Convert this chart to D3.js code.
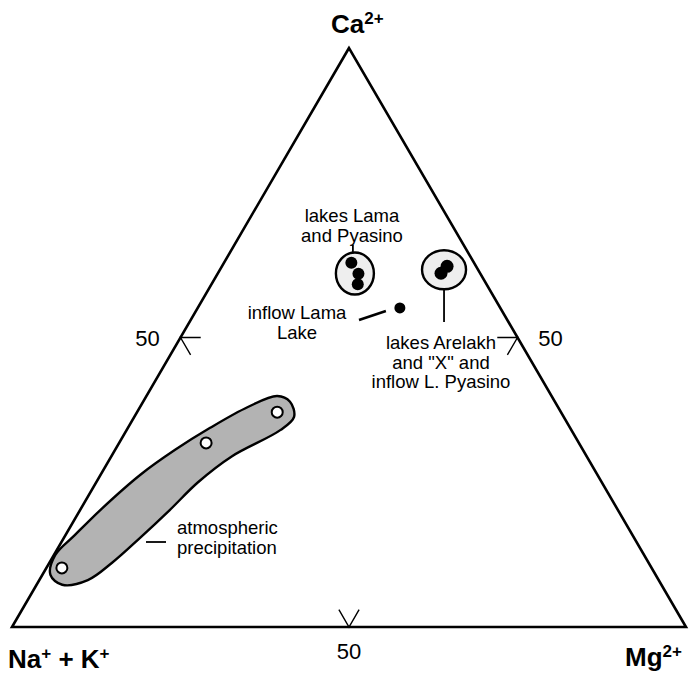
<!DOCTYPE html>
<html>
<head>
<meta charset="utf-8">
<script src="https://cdn.jsdelivr.net/npm/d3@7"></script>
<style>
  html, body { margin: 0; padding: 0; background: #fff; }
  svg { display: block; font-family: "Liberation Sans", Arial, Helvetica, sans-serif; }
</style>
</head>
<body>
<div id="chart"></div>
<script>
// ternary values in percent: Ca, Mg (Na+K is the rest)
const lamaCa = [62.9, 61.0, 59.2];
const lamaMg = [18.9, 20.9, 21.7];
const arelakhCa = [61.1, 62.3];
const arelakhMg = [33.1, 33.4];
const inflowCa = [55.1];
const inflowMg = [30.0];
const precipCa = [10.2, 31.8, 37.1];
const precipMg = [2.3, 12.9, 20.8];

// outline of the precipitation field (Ca, Mg)
const envelopeCa = [9.0, 12.4, 15.9, 20.2, 26.3, 30.6, 34.4, 38.0, 39.9, 38.9, 36.3, 34.0, 29.5, 25.0, 20.2, 15.4, 11.1, 8.1, 7.3];
const envelopeMg = [1.2, 0.2, 1.4, 3.0, 5.9, 8.9, 12.2, 16.0, 19.4, 21.8, 23.7, 22.8, 17.9, 15.1, 13.3, 11.3, 9.3, 7.2, 3.8];

const tickValues = [50];
const cornerLabels = [
  { main: "Ca", sup: "2+" },
  { main: "Na", sup: "+", tail: " + K", tailSup: "+" },
  { main: "Mg", sup: "2+" }
];

const W = 689, H = 681;
const svg = d3.select("#chart").append("svg").attr("width", W).attr("height", H);

const xScale = d3.scaleLinear().domain([0, 100]).range([12, 686]);
const yScale = d3.scaleLinear().domain([0, 100]).range([627, 48]);
const px = (ca, mg) => [xScale(mg + ca / 2), yScale(ca)];

// triangle
const corners = [px(100, 0), px(0, 0), px(0, 100)];
svg.append("path")
  .attr("d", d3.line()(corners) + "Z")
  .attr("fill", "none")
  .attr("stroke", "#000")
  .attr("stroke-width", 2.6)
  .attr("stroke-linejoin", "miter");

// ticks at 50 on each side
const tickGroup = svg.append("g").attr("stroke", "#000").attr("stroke-width", 1.4).attr("fill", "none");
tickValues.forEach(v => {
  const d = 3;
  // left side (Mg = 0)
  const L = px(v, 0);
  tickGroup.append("path").attr("d", d3.line()([px(v, d), L, px(v - d, d)]));
  // right side (Na = 0)
  const R = px(v, 100 - v);
  tickGroup.append("path").attr("d", d3.line()([px(v, 100 - v - d), R, px(v - d, 100 - v)]));
  // bottom (Ca = 0)
  const B = px(0, v);
  tickGroup.append("path").attr("d", d3.line()([px(d, v - d), B, px(d, v)]));

  svg.append("text").attr("x", L[0] - 33).attr("y", L[1] + 8)
    .attr("text-anchor", "middle").attr("font-size", 22).text(v);
  svg.append("text").attr("x", R[0] + 33).attr("y", R[1] + 8)
    .attr("text-anchor", "middle").attr("font-size", 22).text(v);
  svg.append("text").attr("x", B[0]).attr("y", B[1] + 32)
    .attr("text-anchor", "middle").attr("font-size", 22).text(v);
});

// precipitation field
const envelope = envelopeCa.map((c, i) => px(c, envelopeMg[i]));
svg.append("path")
  .attr("d", d3.line().curve(d3.curveCatmullRomClosed.alpha(0.5))(envelope))
  .attr("fill", "#b3b3b3")
  .attr("stroke", "#000")
  .attr("stroke-width", 2.4);

// lake fields
function field(cas, mgs, rx, ry) {
  const pts = cas.map((c, i) => px(c, mgs[i]));
  const cx = (d3.min(pts, p => p[0]) + d3.max(pts, p => p[0])) / 2;
  const cy = (d3.min(pts, p => p[1]) + d3.max(pts, p => p[1])) / 2;
  svg.append("ellipse")
    .attr("cx", cx).attr("cy", cy).attr("rx", rx).attr("ry", ry)
    .attr("fill", "#eeeeee").attr("stroke", "#000").attr("stroke-width", 2.4);
  return [cx, cy];
}
const lamaC = field(lamaCa, lamaMg, 19, 21);
const arelC = field(arelakhCa, arelakhMg, 22, 19.5);

function dots(cas, mgs, fill, r) {
  svg.append("g").selectAll("circle")
    .data(cas.map((c, i) => px(c, mgs[i])))
    .join("circle")
    .attr("cx", d => d[0]).attr("cy", d => d[1]).attr("r", r)
    .attr("fill", fill).attr("stroke", "#000").attr("stroke-width", fill === "#fff" ? 2 : 0);
}
dots(lamaCa, lamaMg, "#000", 6);
dots(arelakhCa, arelakhMg, "#000", 6.5);
dots(inflowCa, inflowMg, "#000", 5.5);
dots(precipCa, precipMg, "#fff", 5.5);

// leader lines
const lead = svg.append("g").attr("stroke", "#000").attr("stroke-width", 1.8);
lead.append("line").attr("x1", lamaC[0] - 2).attr("x2", lamaC[0] - 2).attr("y1", 245).attr("y2", lamaC[1] - 21);
lead.append("line").attr("x1", arelC[0]).attr("x2", arelC[0]).attr("y1", arelC[1] + 19.5).attr("y2", 322);
const inf = px(inflowCa[0], inflowMg[0]);
lead.append("line").attr("x1", 359).attr("y1", 320).attr("x2", inf[0] - 14).attr("y2", inf[1] + 3).attr("stroke-width", 2.6);
lead.append("line").attr("x1", 146).attr("y1", 542).attr("x2", 166).attr("y2", 542);

// annotations
function note(x, y, lines, anchor) {
  const t = svg.append("text").attr("font-size", 18.5).attr("text-anchor", anchor);
  lines.forEach((s, i) => t.append("tspan").attr("x", x).attr("y", y + i * 19.5).text(s));
}
note(352, 222, ["lakes Lama", "and Pyasino"], "middle");
note(297, 319, ["inflow Lama", "Lake"], "middle");
note(441, 349, ["lakes Arelakh", "and \"X\" and", "inflow L. Pyasino"], "middle");
note(177, 534, ["atmospheric", "precipitation"], "start");

// corner labels
function corner(x, y, lab, anchor) {
  const t = svg.append("text").attr("x", x).attr("y", y).attr("font-size", 26)
    .attr("font-weight", "bold").attr("text-anchor", anchor);
  t.append("tspan").text(lab.main);
  t.append("tspan").attr("font-size", 17).attr("dy", -9).text(lab.sup);
  if (lab.tail) {
    t.append("tspan").attr("dy", 9).text(lab.tail);
    t.append("tspan").attr("font-size", 17).attr("dy", -9).text(lab.tailSup);
  }
}
corner(331, 33, cornerLabels[0], "start");
corner(8, 668, cornerLabels[1], "start");
corner(625, 666, cornerLabels[2], "start");
</script>
</body>
</html>
